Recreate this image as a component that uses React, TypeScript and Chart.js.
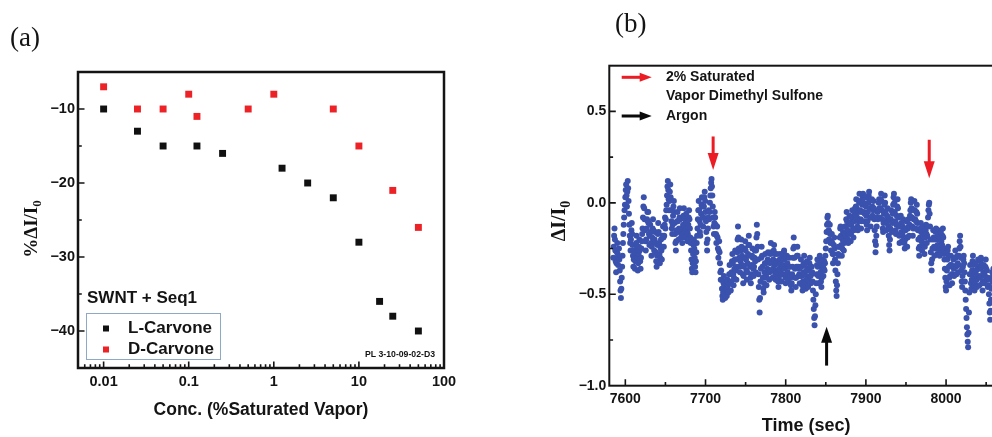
import React, { useEffect, useRef } from 'react';
import { Chart, registerables } from 'chart.js';

Chart.register(...registerables);

// ---------------- Panel (a): response vs concentration ----------------
const L_CONC = [0.01, 0.025, 0.05, 0.125, 0.25, 1.25, 2.5, 5, 10, 17.5, 25, 50];
const L_RESP = [-10, -13, -15, -15, -16, -18, -20, -22, -28, -36, -38, -40];
const D_CONC = [0.01, 0.025, 0.05, 0.1, 0.125, 0.5, 1, 5, 10, 25, 50];
const D_RESP = [-7, -10, -10, -8, -11, -10, -8, -10, -15, -21, -26];
const A_SERIES = ['L-Carvone', 'D-Carvone'];
const A_X_TICKS = [0.01, 0.1, 1, 10, 100];
const A_X_TICK_LABELS = ['0.01', '0.1', '1', '10', '100'];
const A_Y_TICKS = [-40, -30, -20, -10];
const A_Y_TICK_LABELS = ['\u221240', '\u221230', '\u221220', '\u221210'];
const A_Y_MINOR = [-35, -25, -15];
const A_X_TITLE = 'Conc. (%Saturated Vapor)';
const A_Y_TITLE = ['%\u0394I/I', '0'];
const A_NOTE = 'SWNT + Seq1';
const A_ID = 'PL 3-10-09-02-D3';

// ---------------- Panel (b): time trace ----------------
const B_X_TICKS = [7600, 7700, 7800, 7900, 8000];
const B_X_TICK_LABELS = ['7600', '7700', '7800', '7900', '8000'];
const B_X_MINOR = [7650, 7750, 7850, 7950, 8050];
const B_Y_TICKS = [-1, -0.5, 0, 0.5];
const B_Y_TICK_LABELS = ['\u22121.0', '\u22120.5', '0.0', '0.5'];
const B_Y_MINOR = [-0.75, -0.25, 0.25];
const B_X_TITLE = 'Time (sec)';
const B_Y_TITLE = ['\u0394I/I', '0'];
const B_LEGEND = ['2% Saturated', 'Vapor Dimethyl Sulfone', 'Argon'];
// arrows: [time, tail value, tip value]
const VAPOR_ARROWS: Array<[number, number, number]> = [[7709.5, 0.363, 0.18], [7979, 0.345, 0.135]];
const ARGON_ARROWS: Array<[number, number, number]> = [[7851, -0.89, -0.677]];

const TRACE_STEP = 0.5;
const TRACE_SEGMENTS: Array<[number, number[]]> = [
  [7585, [-0.30,-0.24,-0.18,-0.14,-0.20,-0.26,-0.32,-0.38,-0.33,-0.27,-0.22,-0.28]],
  [7591, [-0.34,-0.30,-0.25,-0.31,-0.37,-0.43,-0.48,-0.52,-0.47,-0.41,-0.35,-0.29]],
  [7597, [-0.22,-0.17,-0.12,-0.08,-0.04,-0.01]],
  [7600, [0.03,0.07,0.10,0.04,-0.02,0.06,0.12,0.08,0.01,-0.06,-0.12,-0.18,-0.22,-0.26]],
  [7607, [-0.20,-0.15,-0.11,-0.17,-0.23,-0.29,-0.35,-0.31,-0.26,-0.30,-0.36,-0.32,-0.27,-0.22,-0.18,-0.24,-0.30,-0.37,-0.33,-0.28,-0.24,-0.20,-0.26,-0.32,-0.36,-0.30,-0.25,-0.21,-0.17,-0.14]],
  [7622, [-0.08,-0.02,0.03,-0.03,-0.09,-0.15,-0.21,-0.26,-0.20,-0.14,-0.09,-0.05]],
  [7628, [-0.10,-0.05,-0.11,-0.17,-0.23,-0.18,-0.12,-0.16,-0.22,-0.29,-0.24,-0.19,-0.14,-0.09,-0.15,-0.21,-0.26,-0.20,-0.16,-0.22]],
  [7638, [-0.27,-0.32,-0.35,-0.29,-0.23,-0.17,-0.11,-0.16,-0.22,-0.28,-0.33,-0.30,-0.25,-0.20,-0.26,-0.31,-0.24,-0.18]],
  [7647, [-0.13,-0.19,-0.24,-0.18,-0.12,-0.08,-0.14,-0.09,-0.04,-0.01]],
  [7652, [0.04,0.09,0.12,0.07,0.02,-0.04,0.01,0.06,0.10,0.03,-0.04,-0.10,-0.14,-0.17]],
  [7659, [-0.12,-0.07,-0.02,0.01,-0.05,-0.11,-0.17,-0.22,-0.26,-0.21,-0.15,-0.10,-0.05,-0.10,-0.16,-0.20,-0.14,-0.08,-0.03,-0.09,-0.15,-0.19]],
  [7670, [-0.14,-0.18,-0.22,-0.17,-0.12,-0.07,-0.03,-0.08,-0.13,-0.19,-0.15,-0.10,-0.06,-0.11,-0.16,-0.21,-0.17,-0.12,-0.08,-0.04,-0.09,-0.14,-0.19,-0.22]],
  [7682, [-0.26,-0.31,-0.36,-0.38,-0.33,-0.28,-0.23,-0.20,-0.25,-0.30,-0.35,-0.38,-0.32,-0.27,-0.22,-0.18]],
  [7690, [-0.14,-0.09,-0.04,0.01,-0.04,-0.10,-0.16,-0.18,-0.12,-0.06,-0.01,0.03,-0.02,-0.08,-0.13,-0.08,-0.02,0.03,0.06,0.01,-0.05,-0.10]],
  [7701, [-0.16,-0.22,-0.26,-0.20,-0.14,-0.08,-0.04,-0.09,-0.05,0.00]],
  [7706, [0.04,0.08,0.11,0.13,0.09,0.04,-0.02,-0.08,-0.13,-0.17,-0.11,-0.05]],
  [7712, [-0.08,-0.12,-0.17,-0.22,-0.18,-0.13,-0.19,-0.25,-0.30,-0.26,-0.21,-0.27,-0.33,-0.38,-0.42,-0.37]],
  [7720, [-0.42,-0.47,-0.51,-0.53,-0.49,-0.44,-0.40,-0.45,-0.50,-0.52,-0.48,-0.43,-0.47,-0.51,-0.46,-0.42,-0.45,-0.49,-0.44,-0.39]],
  [7730, [-0.34,-0.39,-0.44,-0.48,-0.43,-0.38,-0.32,-0.28,-0.33,-0.39,-0.45,-0.41,-0.36,-0.31,-0.26,-0.31,-0.37,-0.42,-0.35,-0.27,-0.20,-0.13,-0.19,-0.25]],
  [7742, [-0.30,-0.35,-0.38,-0.32,-0.26,-0.20,-0.24,-0.29]],
  [7746, [-0.34,-0.39,-0.44,-0.40,-0.35,-0.30,-0.25,-0.21,-0.26,-0.31,-0.37,-0.42,-0.38,-0.33,-0.28,-0.23,-0.18,-0.23,-0.29,-0.35,-0.41,-0.44,-0.39,-0.34,-0.29,-0.25,-0.30,-0.36,-0.40,-0.35,-0.30,-0.26,-0.32,-0.38]],
  [7763, [-0.26,-0.19,-0.12,-0.17,-0.24,-0.31,-0.39,-0.46,-0.53,-0.60,-0.52,-0.43]],
  [7769, [-0.36,-0.30,-0.24,-0.29,-0.35,-0.41,-0.47,-0.49,-0.44,-0.38,-0.33,-0.28,-0.33,-0.39,-0.45,-0.41,-0.36,-0.31,-0.27,-0.32]],
  [7779, [-0.37,-0.42,-0.38,-0.33,-0.28,-0.22,-0.27,-0.32,-0.37,-0.41,-0.36,-0.31,-0.26,-0.23,-0.28,-0.34,-0.39,-0.42,-0.37,-0.32,-0.28,-0.33]],
  [7790, [-0.38,-0.43,-0.46,-0.41,-0.36,-0.31,-0.28,-0.33,-0.38,-0.43,-0.39,-0.34,-0.30,-0.35]],
  [7797, [-0.31,-0.27,-0.26,-0.31,-0.36,-0.41,-0.44,-0.39,-0.34,-0.29,-0.33,-0.38,-0.43,-0.40,-0.35,-0.30,-0.35,-0.40]],
  [7806, [-0.41,-0.45,-0.48,-0.44,-0.39,-0.35]],
  [7809, [-0.30,-0.25,-0.19,-0.24,-0.30,-0.36,-0.41,-0.46,-0.41,-0.35,-0.29,-0.24,-0.29,-0.35,-0.40,-0.36]],
  [7817, [-0.39,-0.44,-0.40,-0.35,-0.31,-0.35]],
  [7820, [-0.40,-0.45,-0.48,-0.43,-0.38,-0.33,-0.29,-0.34,-0.39,-0.44,-0.47,-0.42,-0.37,-0.32,-0.36,-0.41,-0.46,-0.42,-0.37,-0.33,-0.30,-0.35,-0.40,-0.44,-0.39,-0.35]],
  [7833, [-0.38,-0.43,-0.48,-0.53,-0.58,-0.63,-0.67,-0.62,-0.56,-0.50,-0.44,-0.39,-0.34,-0.31]],
  [7840, [-0.35,-0.40,-0.44,-0.39,-0.34,-0.29,-0.33,-0.38,-0.43,-0.46,-0.41,-0.36,-0.31,-0.35,-0.40,-0.36,-0.32,-0.37,-0.33,-0.29]],
  [7850, [-0.25,-0.21,-0.16,-0.12,-0.08,-0.07,-0.11,-0.15,-0.20,-0.16,-0.12,-0.17,-0.22,-0.26]],
  [7857, [-0.21,-0.17,-0.22,-0.28,-0.33,-0.28,-0.23,-0.19,-0.25,-0.31,-0.37,-0.43,-0.48,-0.51,-0.45,-0.39,-0.33,-0.28,-0.24,-0.29]],
  [7867, [-0.24,-0.19,-0.14,-0.13,-0.18,-0.23,-0.29,-0.25,-0.20,-0.16,-0.21,-0.26,-0.22,-0.17,-0.13,-0.18]],
  [7875, [-0.13,-0.09,-0.05,-0.10,-0.15,-0.20,-0.22,-0.17,-0.12,-0.07,-0.11,-0.16,-0.21,-0.17,-0.12,-0.08,-0.04,-0.09,-0.14,-0.19,-0.15,-0.10,-0.06,-0.03]],
  [7887, [-0.07,-0.02,0.02,-0.03,-0.08,-0.13,-0.15,-0.10,-0.05,0.00,0.05,0.01,-0.04,-0.09,-0.14,-0.10,-0.05,-0.01,0.03,0.05,0.00,-0.05,-0.10,-0.06,-0.01,0.03]],
  [7900, [-0.02,-0.07,-0.12,-0.15,-0.10,-0.05,0.00,0.04,0.06,0.02,-0.03,-0.08,-0.13,-0.08,-0.03,0.02,-0.02,-0.07]],
  [7909, [-0.04,0.01,-0.03,-0.09,-0.15,-0.21,-0.27,-0.23,-0.18,-0.13,-0.08,-0.05]],
  [7915, [-0.09,-0.04,0.00,0.02,-0.03,-0.08]],
  [7918, [-0.03,0.02,0.05,0.01,-0.04,-0.09,-0.14,-0.16,-0.11,-0.06,-0.01,0.04,0.00,-0.05,-0.10,-0.15,-0.11,-0.07,-0.03,-0.08]],
  [7928, [-0.13,-0.18,-0.23,-0.26,-0.20,-0.14,-0.09,-0.04,-0.10,-0.16]],
  [7933, [-0.11,-0.06,-0.01,0.03,0.05,0.00,-0.05,-0.10,-0.15,-0.17,-0.12,-0.07,-0.02,0.02]],
  [7940, [-0.03,-0.08,-0.13,-0.18,-0.22,-0.17,-0.12,-0.07,-0.11,-0.16,-0.21,-0.17,-0.13,-0.09,-0.14,-0.19]],
  [7948, [-0.22,-0.25,-0.20,-0.15,-0.10,-0.14,-0.19,-0.24,-0.19,-0.14,-0.09,-0.13,-0.18,-0.12,-0.07,-0.04]],
  [7956, [0.00,0.02,-0.03,-0.08,-0.13,-0.18,-0.14,-0.09,-0.04,0.01,-0.04,-0.09,-0.14,-0.10,-0.05,-0.01,-0.06,-0.11]],
  [7965, [-0.15,-0.20,-0.25,-0.29,-0.24,-0.19,-0.14,-0.11,-0.16,-0.21,-0.26,-0.22,-0.17,-0.13,-0.18,-0.23,-0.28,-0.24,-0.19,-0.15,-0.12,-0.17,-0.22,-0.18]],
  [7977, [-0.13,-0.08,-0.04,-0.01,0.00,-0.06,-0.13,-0.20,-0.27,-0.33,-0.37,-0.31]],
  [7983, [-0.25,-0.20,-0.15,-0.19,-0.24,-0.29,-0.25,-0.20,-0.16,-0.14,-0.19,-0.24,-0.28,-0.23,-0.18,-0.15,-0.20,-0.26,-0.29,-0.24,-0.19,-0.16,-0.21,-0.27,-0.23,-0.18,-0.14,-0.19,-0.25,-0.28]],
  [7998, [-0.31,-0.36,-0.41,-0.46,-0.48,-0.43,-0.37,-0.31,-0.26,-0.24,-0.29,-0.35,-0.41,-0.45,-0.40,-0.34,-0.29,-0.34,-0.39,-0.44,-0.39,-0.35]],
  [8009, [-0.31,-0.36,-0.40,-0.35,-0.30,-0.26,-0.30,-0.35,-0.39,-0.34,-0.29,-0.33,-0.38,-0.34,-0.29,-0.25,-0.21,-0.18,-0.24,-0.30,-0.37,-0.43,-0.46,-0.40,-0.35,-0.31]],
  [8022, [-0.29,-0.33,-0.38,-0.43,-0.48,-0.53,-0.58,-0.63,-0.68,-0.72,-0.76,-0.79,-0.71,-0.60,-0.49,-0.39]],
  [8030, [-0.34,-0.39,-0.44,-0.47,-0.42,-0.37,-0.32,-0.29,-0.34,-0.40,-0.45,-0.48,-0.43,-0.38,-0.33,-0.37,-0.42,-0.46,-0.41,-0.36,-0.31,-0.35,-0.40,-0.45,-0.41,-0.36,-0.32,-0.30,-0.35,-0.40,-0.44,-0.48,-0.43,-0.38,-0.34,-0.39,-0.44,-0.40,-0.35,-0.31,-0.36,-0.41]],
  [8051, [-0.37,-0.42,-0.46,-0.41,-0.45,-0.50,-0.55,-0.60,-0.64,-0.59,-0.53,-0.47,-0.42,-0.38,-0.43,-0.40]],
  [8059, [-0.36,-0.41,-0.45,-0.40,-0.35,-0.39,-0.44,-0.48,-0.43,-0.38,-0.34,-0.39,-0.43,-0.38]],
];

const SANS = '"Liberation Sans", Arial, Helvetica, sans-serif';
const SERIF = '"Liberation Serif", "Times New Roman", serif';
const INK = '#141414';
const BLACK_MARK = '#111111';
const RED_MARK = '#ec2226';
const BLUE_DOT = '#3a52ae';

function drawArrow(ctx: any, x1: number, y1: number, x2: number, y2: number, color: string, shaft: number, headLen: number, headHalf: number) {
  const ang = Math.atan2(y2 - y1, x2 - x1);
  const L = Math.hypot(x2 - x1, y2 - y1);
  ctx.save();
  ctx.translate(x2, y2);
  ctx.rotate(ang);
  ctx.fillStyle = color;
  ctx.fillRect(-L, -shaft / 2, L - headLen + 1, shaft);
  ctx.beginPath();
  ctx.moveTo(0, 0);
  ctx.lineTo(-headLen, -headHalf);
  ctx.lineTo(-headLen, headHalf);
  ctx.closePath();
  ctx.fill();
  ctx.restore();
}

function drawRotatedTitle(ctx: any, parts: string[], cx: number, cy: number, size: number) {
  ctx.save();
  ctx.translate(cx, cy);
  ctx.rotate(-Math.PI / 2);
  ctx.fillStyle = INK;
  ctx.textBaseline = 'alphabetic';
  ctx.textAlign = 'left';
  const mainFont = `bold ${size}px ${SERIF}`;
  const subFont = `bold ${Math.round(size * 0.68)}px ${SERIF}`;
  ctx.font = mainFont;
  const wMain = ctx.measureText(parts[0]).width;
  ctx.font = subFont;
  const wSub = ctx.measureText(parts[1]).width;
  const x0 = -(wMain + wSub) / 2;
  const base = size * 0.33;
  ctx.font = mainFont;
  ctx.fillText(parts[0], x0, base);
  ctx.font = subFont;
  ctx.fillText(parts[1], x0 + wMain, base + size * 0.22);
  ctx.restore();
}

function drawTicks(ctx: any, chart: any, xMajor: number[], xMinor: number[], yMajor: number[], yMinor: number[], majLen: number, minLen: number) {
  const { chartArea: ca, scales } = chart;
  ctx.beginPath();
  const addX = (v: number, len: number) => {
    const p = scales.x.getPixelForValue(v);
    if (p <= ca.left + 1 || p >= ca.right - 1) return;
    ctx.moveTo(p, ca.bottom);
    ctx.lineTo(p, ca.bottom - len);
  };
  const addY = (v: number, len: number) => {
    const p = scales.y.getPixelForValue(v);
    if (p <= ca.top + 1 || p >= ca.bottom - 1) return;
    ctx.moveTo(ca.left, p);
    ctx.lineTo(ca.left + len, p);
  };
  xMajor.forEach((v) => addX(v, majLen));
  xMinor.forEach((v) => addX(v, minLen));
  yMajor.forEach((v) => addY(v, majLen));
  yMinor.forEach((v) => addY(v, minLen));
  ctx.stroke();
}

const panelAPlugin = {
  id: 'panelA',
  afterDatasetsDraw(chart: any) {
    const { ctx, chartArea: ca } = chart;
    ctx.save();
    // log minor ticks
    const minors: number[] = [];
    [0.001, 0.01, 0.1, 1, 10].forEach((d) => {
      for (let m = 2; m <= 9; m++) minors.push(m * d);
    });
    ctx.strokeStyle = INK;
    ctx.lineWidth = 1.6;
    drawTicks(ctx, chart, A_X_TICKS, minors.filter((v) => v > 0.005 && v < 100), A_Y_TICKS, A_Y_MINOR, 6.5, 3.8);
    ctx.lineWidth = 2.5;
    ctx.strokeRect(ca.left, ca.top, ca.right - ca.left, ca.bottom - ca.top);

    // annotation text + legend
    ctx.fillStyle = INK;
    ctx.textBaseline = 'middle';
    ctx.textAlign = 'left';
    ctx.font = `bold 17px ${SANS}`;
    ctx.fillText(A_NOTE, ca.left + 9, ca.top + 226);
    ctx.strokeStyle = '#8ea9c6';
    ctx.lineWidth = 1;
    ctx.strokeRect(ca.left + 8.5, ca.top + 241.5, 134, 46);
    const ds = chart.data.datasets;
    ds.forEach((d: any, i: number) => {
      const y = ca.top + 256.5 + i * 21;
      ctx.fillStyle = d.backgroundColor;
      ctx.fillRect(ca.left + 25, y - 3, 6, 6);
      ctx.fillStyle = INK;
      ctx.font = `bold 17px ${SANS}`;
      ctx.fillText(d.label, ca.left + 50, y);
    });
    ctx.font = `bold 8.7px ${SANS}`;
    ctx.textAlign = 'right';
    ctx.fillText(A_ID, ca.right - 9, ca.bottom - 13);

    // panel label + y title
    ctx.textAlign = 'left';
    ctx.font = `27px ${SERIF}`;
    ctx.fillText('(a)', 10, 38.5);
    drawRotatedTitle(ctx, A_Y_TITLE, 31, 229, 19);
    ctx.restore();
  },
};

const panelBPlugin = {
  id: 'panelB',
  afterDatasetsDraw(chart: any) {
    const { ctx, chartArea: ca, scales } = chart;
    ctx.save();
    ctx.strokeStyle = INK;
    ctx.lineWidth = 1.6;
    drawTicks(ctx, chart, B_X_TICKS, B_X_MINOR, B_Y_TICKS, B_Y_MINOR, 6.5, 3.8);
    ctx.lineWidth = 2;
    ctx.strokeRect(ca.left, ca.top, ca.right - ca.left, ca.bottom - ca.top);

    VAPOR_ARROWS.forEach(([t, a, b]) => {
      const x = scales.x.getPixelForValue(t);
      drawArrow(ctx, x, scales.y.getPixelForValue(a), x, scales.y.getPixelForValue(b), '#ec1c24', 3, 17, 5.5);
    });
    ARGON_ARROWS.forEach(([t, a, b]) => {
      const x = scales.x.getPixelForValue(t);
      drawArrow(ctx, x, scales.y.getPixelForValue(a), x, scales.y.getPixelForValue(b), '#0a0a0a', 3, 16, 5.5);
    });

    // legend
    drawArrow(ctx, ca.left + 12.4, ca.top + 11.6, ca.left + 42.4, ca.top + 11.6, '#ec1c24', 3, 12, 4.5);
    drawArrow(ctx, ca.left + 12.4, ca.top + 50.3, ca.left + 42.4, ca.top + 50.3, '#0a0a0a', 3, 12, 4.5);
    ctx.fillStyle = INK;
    ctx.textBaseline = 'middle';
    ctx.textAlign = 'left';
    ctx.font = `bold 14px ${SANS}`;
    ctx.fillText(B_LEGEND[0], ca.left + 56.7, ca.top + 11.6);
    ctx.fillText(B_LEGEND[1], ca.left + 56.7, ca.top + 30.6);
    ctx.fillText(B_LEGEND[2], ca.left + 56.7, ca.top + 50.3);

    ctx.font = `27px ${SERIF}`;
    ctx.fillText('(b)', 115, 25);
    drawRotatedTitle(ctx, B_Y_TITLE, 58.5, 221, 20);
    ctx.restore();
  },
};

const tickFont = (size: number) => ({ family: SANS, size, weight: 'bold' as const });

export default function App() {
  const refA = useRef<HTMLCanvasElement>(null);
  const refB = useRef<HTMLCanvasElement>(null);

  useEffect(() => {
    const chartA = new Chart(refA.current as HTMLCanvasElement, {
      type: 'scatter',
      data: {
        datasets: [
          {
            label: A_SERIES[0],
            data: L_CONC.map((x, i) => ({ x, y: L_RESP[i] })),
            backgroundColor: BLACK_MARK,
            borderWidth: 0,
            pointStyle: 'rect',
            pointRadius: 4.9,
          },
          {
            label: A_SERIES[1],
            data: D_CONC.map((x, i) => ({ x, y: D_RESP[i] })),
            backgroundColor: RED_MARK,
            borderWidth: 0,
            pointStyle: 'rect',
            pointRadius: 4.9,
          },
        ],
      },
      options: {
        responsive: false,
        animation: false,
        devicePixelRatio: 1,
        events: [],
        layout: { padding: { left: 0, top: 72, right: 36, bottom: 0 } },
        plugins: { legend: { display: false }, tooltip: { enabled: false } },
        scales: {
          x: {
            type: 'logarithmic',
            min: 0.005,
            max: 100,
            afterBuildTicks: (s: any) => { s.ticks = A_X_TICKS.map((value) => ({ value })); },
            afterFit: (s: any) => { s.height = 69; },
            grid: { display: false, drawTicks: false },
            border: { display: false },
            ticks: {
              autoSkip: false,
              maxRotation: 0,
              padding: 5.5,
              color: INK,
              font: tickFont(14.5),
              callback: (_v: any, i: number) => A_X_TICK_LABELS[i],
            },
            title: {
              display: true,
              text: A_X_TITLE,
              color: INK,
              font: { family: SANS, size: 17.5, weight: 'bold' },
              padding: { top: 0, bottom: 16 },
            },
          },
          y: {
            type: 'linear',
            min: -45,
            max: -5,
            afterBuildTicks: (s: any) => { s.ticks = A_Y_TICKS.map((value) => ({ value })); },
            afterFit: (s: any) => { s.width = 78; },
            grid: { display: false, drawTicks: false },
            border: { display: false },
            ticks: {
              padding: 3,
              color: INK,
              font: tickFont(14.5),
              callback: (_v: any, i: number) => A_Y_TICK_LABELS[i],
            },
          },
        },
      } as any,
      plugins: [panelAPlugin],
    });

    const tracePoints = TRACE_SEGMENTS.flatMap(([t0, vals]) => vals.map((v, j) => ({ x: t0 + j * TRACE_STEP, y: v })));

    const chartB = new Chart(refB.current as HTMLCanvasElement, {
      type: 'scatter',
      data: {
        datasets: [
          {
            label: 'trace',
            data: tracePoints,
            backgroundColor: BLUE_DOT,
            borderWidth: 0,
            pointRadius: 3,
          },
        ],
      },
      options: {
        responsive: false,
        animation: false,
        devicePixelRatio: 1,
        events: [],
        layout: { padding: { left: 0, top: 65.7, right: 7, bottom: 0 } },
        plugins: { legend: { display: false }, tooltip: { enabled: false } },
        scales: {
          x: {
            type: 'linear',
            min: 7580,
            max: 8071,
            afterBuildTicks: (s: any) => { s.ticks = B_X_TICKS.map((value) => ({ value })); },
            afterFit: (s: any) => { s.height = 51.3; },
            grid: { display: false, drawTicks: false },
            border: { display: false },
            ticks: {
              autoSkip: false,
              maxRotation: 0,
              padding: 5,
              color: INK,
              font: tickFont(14),
              callback: (_v: any, i: number) => B_X_TICK_LABELS[i],
            },
            title: {
              display: true,
              text: B_X_TITLE,
              color: INK,
              font: { family: SANS, size: 18, weight: 'bold' },
              padding: { top: 0, bottom: 0 },
            },
          },
          y: {
            type: 'linear',
            min: -1,
            max: 0.75,
            afterBuildTicks: (s: any) => { s.ticks = B_Y_TICKS.map((value) => ({ value })); },
            afterFit: (s: any) => { s.width = 109.3; },
            grid: { display: false, drawTicks: false },
            border: { display: false },
            ticks: {
              padding: 3,
              color: INK,
              font: tickFont(14),
              callback: (_v: any, i: number) => B_Y_TICK_LABELS[i],
            },
          },
        },
      } as any,
      plugins: [panelBPlugin],
    });

    return () => {
      chartA.destroy();
      chartB.destroy();
    };
  }, []);

  return (
    <div style={{ position: 'fixed', left: 0, top: 0, width: 992, height: 437, overflow: 'hidden', background: '#ffffff' }}>
      <canvas ref={refA} width={480} height={437} style={{ position: 'absolute', left: 0, top: 0, width: 480, height: 437 }} />
      <canvas ref={refB} width={510} height={437} style={{ position: 'absolute', left: 500, top: 0, width: 510, height: 437 }} />
    </div>
  );
}
